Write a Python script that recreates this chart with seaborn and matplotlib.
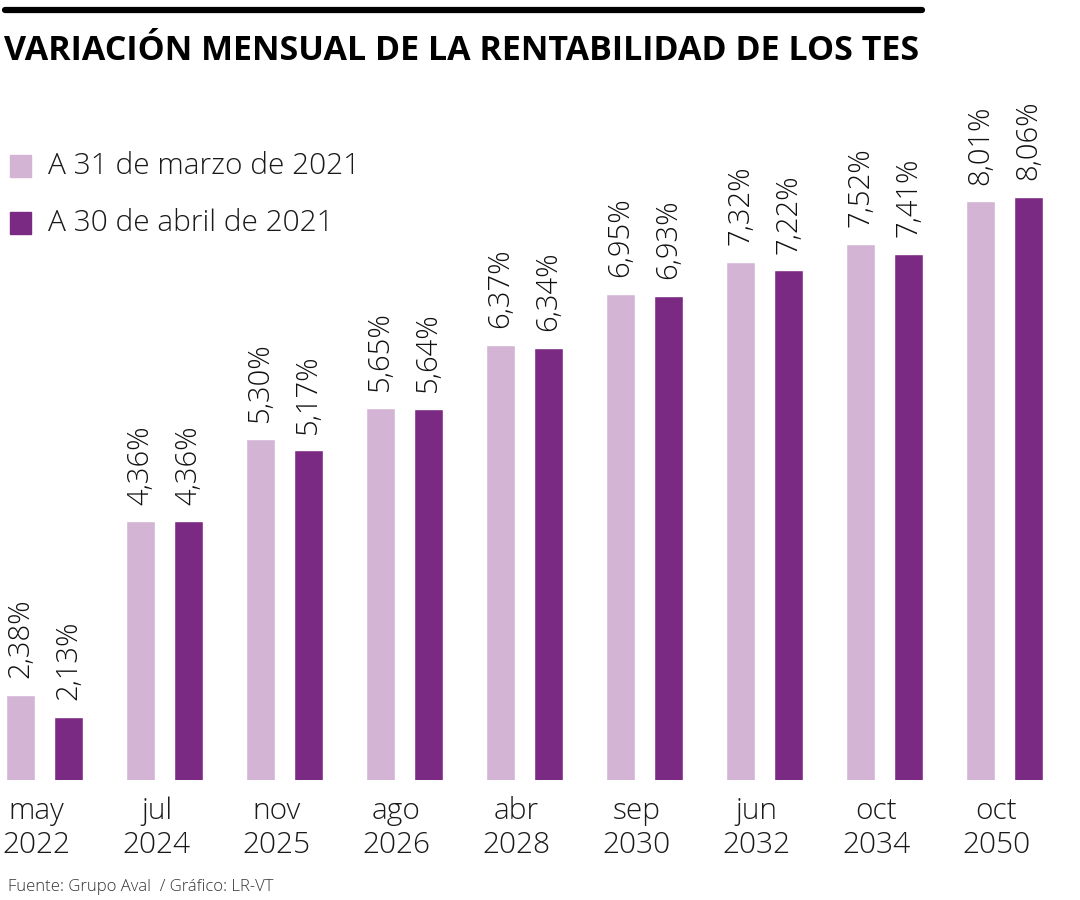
import pandas as pd
import numpy as np
import matplotlib.pyplot as plt
import matplotlib.transforms as mtransforms
import seaborn as sns

# data
plazos = ["may\n2022", "jul\n2024", "nov\n2025", "ago\n2026", "abr\n2028",
          "sep\n2030", "jun\n2032", "oct\n2034", "oct\n2050"]
marzo = [2.38, 4.36, 5.30, 5.65, 6.37, 6.95, 7.32, 7.52, 8.01]
abril = [2.13, 4.36, 5.17, 5.64, 6.34, 6.93, 7.22, 7.41, 8.06]
series = ["A 31 de marzo de 2021", "A 30 de abril de 2021"]

light = "#d3b4d5"
dark = "#7b2a83"

df = pd.DataFrame({
    "plazo": plazos * 2,
    "valor": marzo + abril,
    "serie": [series[0]] * len(plazos) + [series[1]] * len(plazos),
})

sns.set_style("white")
plt.rcParams["font.family"] = ["Open Sans", "DejaVu Sans"]

fig = plt.figure(figsize=(10.8, 9), dpi=100)
ax = fig.add_axes([0, 120 / 900, 1, 680 / 900])

sns.barplot(data=df, x="plazo", y="valor", hue="serie", order=plazos,
            hue_order=series, palette=[light, dark], width=0.8, gap=0.395,
            saturation=1, legend=False, ax=ax)

ax.set_xlim(-44.5 / 120, (1080 - 44.5) / 120)
ax.set_ylim(1.41, 1.41 + 680 / 87.7)
for s in ax.spines.values():
    s.set_visible(False)
ax.set_yticks([])
ax.set_xlabel("")
ax.set_ylabel("")
ax.tick_params(axis="x", length=0, pad=12, labelsize=21.5, labelcolor="#1a1a1a")
shift = mtransforms.ScaledTranslation(-8 / 100, 0, fig.dpi_scale_trans)
for t in ax.get_xticklabels():
    t.set_fontweight("light")
    t.set_linespacing(1.2)
    t.set_transform(t.get_transform() + shift)

for cont in ax.containers:
    for bar in cont:
        v = bar.get_height()
        ax.annotate(f"{v:.2f}%".replace(".", ","),
                    (bar.get_x() + bar.get_width() / 2, v),
                    xytext=(0, 12), textcoords="offset points",
                    rotation=90, ha="center", va="bottom",
                    fontsize=21, fontweight="light", color="#111111")

# legend drawn by hand
for i, (lab, col) in enumerate(zip(series, [light, dark])):
    y = 1 - (166 + i * 57) / 900
    fig.patches.append(plt.Rectangle((10 / 1080, y - 11 / 900), 21 / 1080, 22 / 900,
                                     transform=fig.transFigure, color=col))
    fig.text(48 / 1080, y, lab, fontsize=21.5, fontweight="light",
             va="center", ha="left", color="#1a1a1a")

# title and top rule
fig.add_artist(plt.Line2D([5 / 1080, 922 / 1080], [1 - 10 / 900, 1 - 10 / 900],
                          color="black", linewidth=4.5))
fig.text(4 / 1080, 1 - 51 / 900, "VARIACIÓN MENSUAL DE LA RENTABILIDAD DE LOS TES",
         fontsize=24.5, fontweight="bold", va="center", ha="left", color="black")

fig.text(8 / 1080, 1 - 887 / 900, "Fuente: Grupo Aval  / Gráfico: LR-VT",
         fontsize=12, fontweight="light", va="center", ha="left", color="#333333")

fig.savefig("out.png", dpi=100, facecolor="white")
